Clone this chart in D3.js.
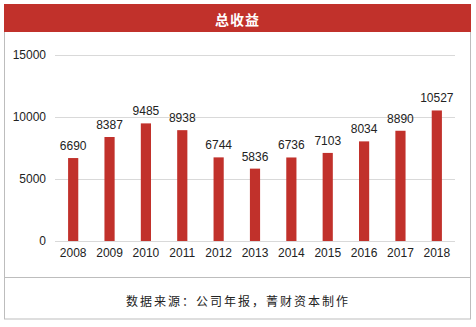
<!DOCTYPE html>
<html>
<head>
<meta charset="utf-8">
<script src="https://cdn.jsdelivr.net/npm/d3@7"></script>
<style>
  html, body { margin: 0; padding: 0; background: #fff; }
  svg { display: block; }
</style>
</head>
<body>
<svg id="chart" width="476" height="327"></svg>
<script>
// Total revenue by year
const years = ["2008", "2009", "2010", "2011", "2012", "2013", "2014", "2015", "2016", "2017", "2018"];
const revenue = [6690, 8387, 9485, 8938, 6744, 5836, 6736, 7103, 8034, 8890, 10527];
const yTicks = [0, 5000, 10000, 15000];
const titleText = "总收益";
const sourceText = "数据来源：公司年报，菁财资本制作";

const svg = d3.select("#chart");
const red = "#C1312B";
const numFont = "'Liberation Sans Narrow', 'Arial Narrow', 'Liberation Sans', Arial, sans-serif";

// frame
svg.append("rect")
  .attr("x", 4.5).attr("y", 4.5).attr("width", 466).attr("height", 314.5)
  .attr("fill", "#fff").attr("stroke", "#bdbdbd").attr("stroke-width", 1);

// title bar
svg.append("rect")
  .attr("x", 4).attr("y", 4).attr("width", 467).attr("height", 28)
  .attr("fill", red);
svg.append("text")
  .attr("x", 237.5).attr("y", 18.5)
  .attr("text-anchor", "middle").attr("dominant-baseline", "central")
  .attr("fill", "#fff")
  .attr("font-family", "'Noto Sans CJK SC', sans-serif")
  .attr("font-weight", "bold").attr("font-size", 14)
  .attr("letter-spacing", 1)
  .text(titleText);

// separator above source line
svg.append("line")
  .attr("x1", 4).attr("x2", 471).attr("y1", 277.5).attr("y2", 277.5)
  .attr("stroke", "#bdbdbd");

svg.append("text")
  .attr("x", 238).attr("y", 300)
  .attr("text-anchor", "middle").attr("dominant-baseline", "central")
  .attr("fill", "#222")
  .attr("font-family", "'Noto Sans CJK SC', sans-serif")
  .attr("font-size", 12)
  .attr("letter-spacing", 2)
  .text(sourceText);

// plot area
const x0 = 55, x1 = 455, yTop = 55, yBottom = 241;
const x = d3.scaleBand().domain(years).range([x0, x1]).paddingInner(0.72).paddingOuter(0.36);
const y = d3.scaleLinear().domain([0, 15000]).range([yBottom, yTop]);

const grid = svg.append("g");
grid.selectAll("line").data(yTicks).join("line")
  .attr("x1", x0).attr("x2", x1)
  .attr("y1", d => Math.round(y(d)) + 0.5).attr("y2", d => Math.round(y(d)) + 0.5)
  .attr("stroke", "#d9d9d9").attr("stroke-width", 1);

const yAxis = svg.append("g")
  .attr("transform", `translate(${x0 - 9},0)`)
  .call(d3.axisLeft(y).tickValues(yTicks).tickSize(0).tickPadding(0).tickFormat(d3.format("d")));
yAxis.select(".domain").remove();
yAxis.selectAll("text")
  .attr("font-family", numFont)
  .attr("font-size", 12).attr("fill", "#222");

const xAxis = svg.append("g")
  .attr("transform", `translate(0,${yBottom})`)
  .call(d3.axisBottom(x).tickSize(0).tickPadding(7));
xAxis.select(".domain").remove();
xAxis.selectAll("text")
  .attr("font-family", numFont)
  .attr("font-size", 12).attr("fill", "#222");

svg.append("g").selectAll("rect").data(revenue).join("rect")
  .attr("x", (d, i) => x(years[i]))
  .attr("width", x.bandwidth())
  .attr("y", d => y(d))
  .attr("height", d => yBottom - y(d))
  .attr("fill", red);

svg.append("g").selectAll("text").data(revenue).join("text")
  .attr("x", (d, i) => x(years[i]) + x.bandwidth() / 2)
  .attr("y", d => y(d) - 8)
  .attr("text-anchor", "middle")
  .attr("font-family", numFont)
  .attr("font-size", 12).attr("fill", "#222")
  .text(d => d);
</script>
</body>
</html>
